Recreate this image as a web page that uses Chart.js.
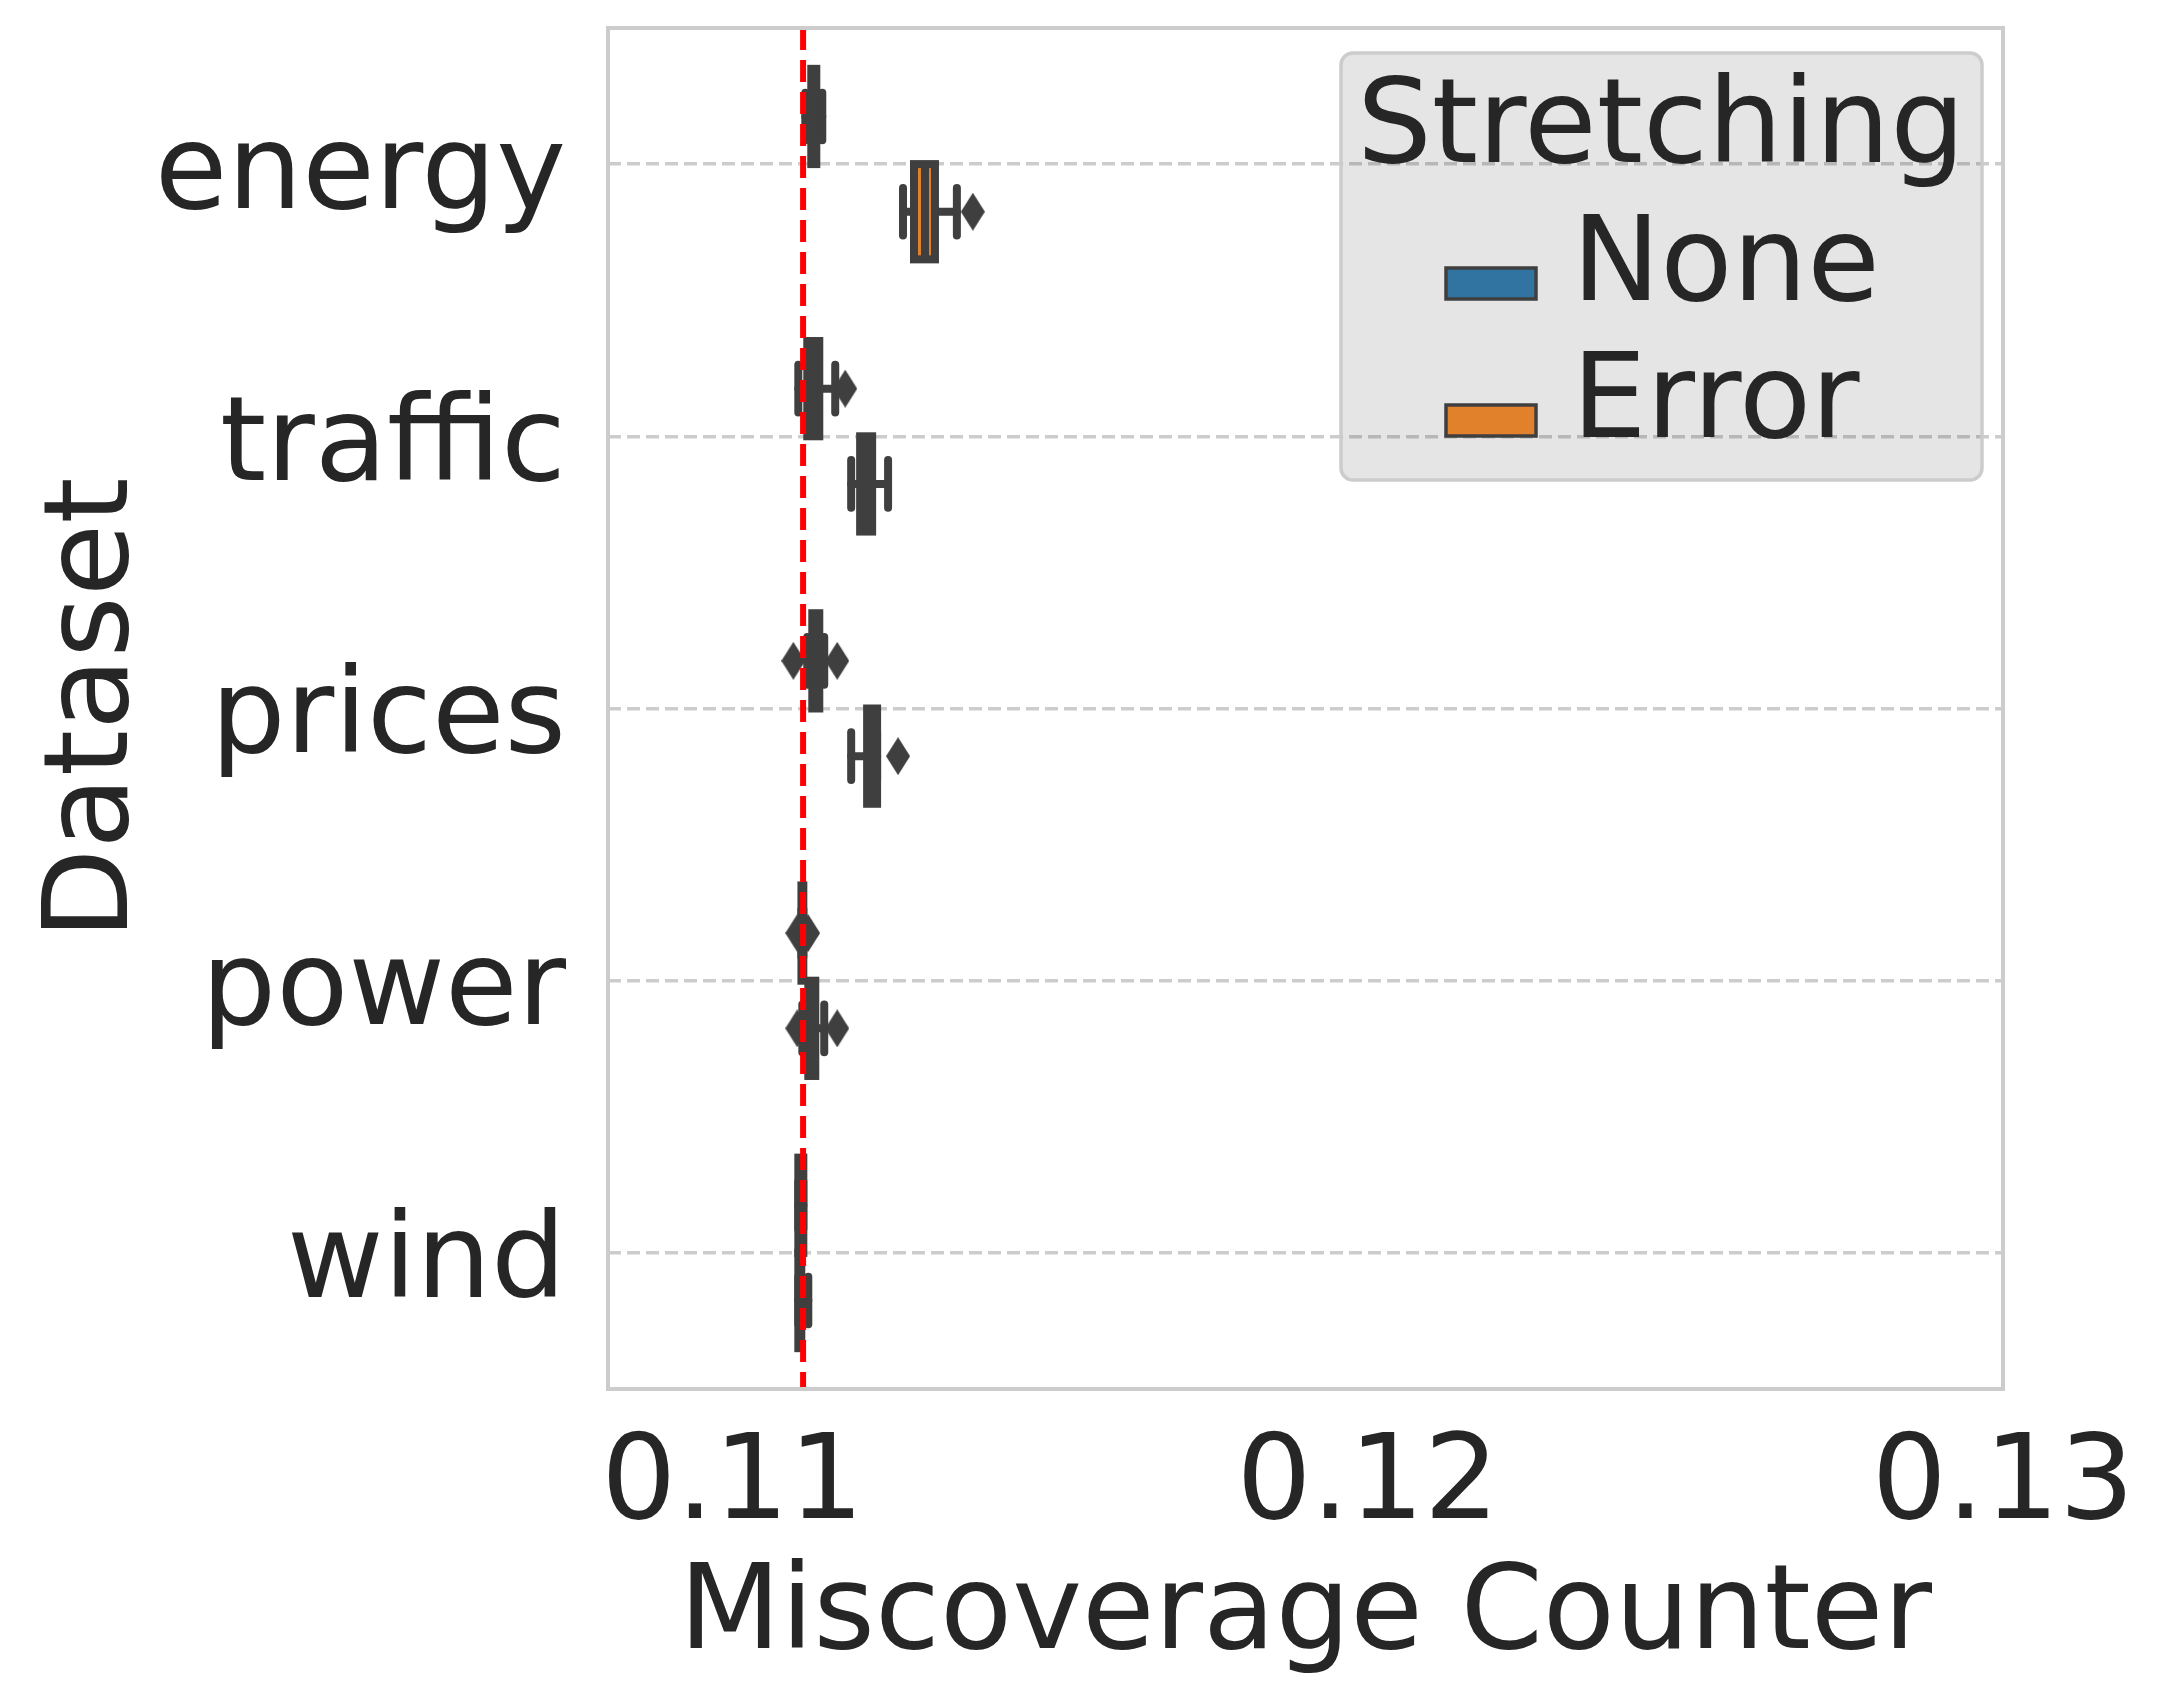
<!DOCTYPE html>
<html>
<head>
<meta charset="utf-8">
<script src="https://cdn.jsdelivr.net/npm/chart.js@4.4.1/dist/chart.umd.min.js"></script>
<style>
  html, body { margin: 0; padding: 0; background: #fff; }
  #wrap { width: 2162px; height: 1705px; }
</style>
</head>
<body>
<div id="wrap"><canvas id="myChart" width="2162" height="1705"></canvas></div>
<script>
const categories = ["energy", "traffic", "prices", "power", "wind"];
const legendTitle = "Stretching";
const hueLabels = ["None", "Error"];
const hueColors = ["#3274a1", "#e1812c"];
const xTicks = [0.11, 0.12, 0.13];
const targetLevel = 1 / 9;

// box stats per dataset (energy, traffic, prices, power, wind)
const noneLow = [0.111146, 0.111036, 0.111177, 0.111085, 0.111036];
const noneQ1 = [0.11124, 0.111177, 0.111256, 0.111085, 0.111036];
const noneMed = [0.11128, 0.111272, 0.11131, 0.1111, 0.11107];
const noneQ3 = [0.111319, 0.111366, 0.111366, 0.111115, 0.111115];
const noneHigh = [0.111413, 0.111617, 0.111444, 0.111115, 0.111115];
const noneOut = [[], [0.111774], [0.110958, 0.111648], [0.11102, 0.11119], []];

const errLow = [0.112684, 0.111868, 0.111868, 0.111099, 0.111036];
const errQ1 = [0.112857, 0.112009, 0.112119, 0.111193, 0.111036];
const errMed = [0.11303, 0.112104, 0.1122, 0.11125, 0.11106];
const errQ3 = [0.113187, 0.112198, 0.112276, 0.111303, 0.111083];
const errHigh = [0.113532, 0.112449, 0.112276, 0.111444, 0.111193];
const errOut = [[0.113783], [], [0.112606], [0.11102, 0.111648], []];

const FONT = "DejaVu Sans";
const TEXT = "#262626";
const LINE = "#3f3f3f";
const hueOffset = 0.175;
const boxHalf = 0.175;
const capHalf = 0.0875;

// thin diamond used for fliers
const diamond = document.createElement("canvas");
diamond.width = 24;
diamond.height = 38;
const dctx = diamond.getContext("2d");
dctx.fillStyle = LINE;
dctx.beginPath();
dctx.moveTo(12, 0);
dctx.lineTo(24, 19);
dctx.lineTo(12, 38);
dctx.lineTo(0, 19);
dctx.closePath();
dctx.fill();

const outlierPoints = (out, off) =>
  out.flatMap((vals, i) => vals.map((v) => ({ x: v, y: i + off })));

const boxPlugin = {
  id: "boxes",
  beforeDatasetsDraw(chart) {
    const { ctx } = chart;
    const x = chart.scales.x;
    const y = chart.scales.y;
    const stats = [
      [noneLow, noneQ1, noneMed, noneQ3, noneHigh],
      [errLow, errQ1, errMed, errQ3, errHigh],
    ];
    const seg = (x1, y1, x2, y2) => {
      ctx.beginPath();
      ctx.moveTo(x1, y1);
      ctx.lineTo(x2, y2);
      ctx.stroke();
    };
    ctx.save();
    stats.forEach((s, h) => {
      const off = h === 0 ? -hueOffset : hueOffset;
      categories.forEach((c, i) => {
        const yc = y.getPixelForValue(i + off);
        const yt = y.getPixelForValue(i + off - boxHalf);
        const yb = y.getPixelForValue(i + off + boxHalf);
        const ct = y.getPixelForValue(i + off - capHalf);
        const cb = y.getPixelForValue(i + off + capHalf);
        const [lo, q1, md, q3, hi] = s.map((a) => x.getPixelForValue(a[i]));
        ctx.strokeStyle = LINE;
        ctx.lineWidth = 8;
        ctx.lineCap = "round";
        seg(lo, yc, q1, yc);
        seg(q3, yc, hi, yc);
        seg(lo, ct, lo, cb);
        seg(hi, ct, hi, cb);
        ctx.lineCap = "butt";
        ctx.lineJoin = "miter";
        ctx.fillStyle = hueColors[h];
        ctx.fillRect(q1, yt, q3 - q1, yb - yt);
        ctx.strokeRect(q1, yt, q3 - q1, yb - yt);
        seg(md, yt, md, yb);
      });
    });
    ctx.restore();
  },
};

const frameLegendPlugin = {
  id: "frameLegend",
  beforeDraw(chart) {
    const { ctx } = chart;
    ctx.save();
    ctx.fillStyle = "#ffffff";
    ctx.fillRect(0, 0, chart.width, chart.height);
    ctx.beginPath();
    ctx.roundRect(1341, 53, 641, 427, 12);
    ctx.fillStyle = "#e5e5e5";
    ctx.fill();
    ctx.restore();
  },
  afterDraw(chart) {
    const { ctx, chartArea: a } = chart;
    ctx.save();
    // legend border, title, entries
    ctx.beginPath();
    ctx.roundRect(1341, 53, 641, 427, 12);
    ctx.strokeStyle = "#cccccc";
    ctx.lineWidth = 3.5;
    ctx.stroke();
    ctx.fillStyle = TEXT;
    ctx.font = "118px '" + FONT + "'";
    ctx.textBaseline = "alphabetic";
    ctx.textAlign = "center";
    ctx.fillText(legendTitle, 1661, 162);
    ctx.textAlign = "left";
    hueLabels.forEach((lab, i) => {
      const top = 268 + i * 137;
      ctx.fillStyle = hueColors[i];
      ctx.fillRect(1446, top, 90, 31);
      ctx.strokeStyle = LINE;
      ctx.lineWidth = 3.5;
      ctx.strokeRect(1446, top, 90, 31);
      ctx.fillStyle = TEXT;
      ctx.fillText(lab, 1572, 300 + i * 137);
    });
    // axes frame
    ctx.strokeStyle = "#cccccc";
    ctx.lineWidth = 4;
    ctx.strokeRect(a.left, a.top, a.right - a.left, a.bottom - a.top);
    ctx.restore();
  },
};

new Chart(document.getElementById("myChart"), {
  type: "scatter",
  data: {
    datasets: [
      {
        label: "target",
        type: "line",
        data: [
          { x: targetLevel, y: -0.5 },
          { x: targetLevel, y: 4.5 },
        ],
        borderColor: "#ff0000",
        borderWidth: 6,
        borderDash: [22, 10],
        pointRadius: 0,
        order: 0,
      },
      {
        label: "None fliers",
        data: outlierPoints(noneOut, -hueOffset),
        pointStyle: diamond,
        order: 1,
      },
      {
        label: "Error fliers",
        data: outlierPoints(errOut, hueOffset),
        pointStyle: diamond,
        order: 1,
      },
    ],
  },
  options: {
    responsive: false,
    devicePixelRatio: 1,
    animation: false,
    events: [],
    layout: { padding: { top: 28, right: 159, left: 0, bottom: 0 } },
    plugins: {
      legend: { display: false },
      tooltip: { enabled: false },
    },
    scales: {
      x: {
        type: "linear",
        position: "bottom",
        min: 0.10804,
        max: 0.13,
        afterBuildTicks: (s) => {
          s.ticks = xTicks.map((v) => ({ value: v }));
        },
        afterFit: (s) => {
          s.height = 316;
          s.paddingLeft = 0;
          s.paddingRight = 0;
        },
        grid: { display: false, drawTicks: false },
        border: { display: false },
        ticks: {
          padding: 28,
          color: TEXT,
          font: { family: FONT, size: 118 },
          callback: (v) => v.toFixed(2),
        },
        title: {
          display: true,
          text: "Miscoverage Counter",
          color: TEXT,
          font: { family: FONT, size: 118 },
          padding: { top: 0, bottom: 17 },
        },
      },
      y: {
        type: "linear",
        min: -0.5,
        max: 4.5,
        reverse: true,
        afterBuildTicks: (s) => {
          s.ticks = categories.map((c, i) => ({ value: i }));
        },
        afterFit: (s) => {
          s.width = 608;
          s.paddingTop = 0;
          s.paddingBottom = 0;
        },
        grid: {
          color: "rgba(0,0,0,0.2)",
          lineWidth: 3.5,
          drawTicks: false,
        },
        border: { display: false, dash: [13, 6] },
        ticks: {
          padding: 42,
          labelOffset: 13,
          color: TEXT,
          font: { family: FONT, size: 118 },
          callback: (v) => categories[v],
        },
        title: {
          display: true,
          text: "Dataset",
          color: TEXT,
          font: { family: FONT, size: 118 },
          padding: { top: 26, bottom: 0 },
        },
      },
    },
  },
  plugins: [boxPlugin, frameLegendPlugin],
});
</script>
</body>
</html>
